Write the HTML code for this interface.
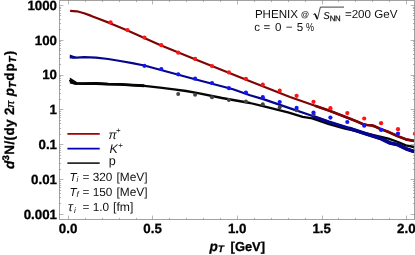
<!DOCTYPE html>
<html><head><meta charset="utf-8"><title>plot</title><style>html,body{margin:0;padding:0;background:#fff;overflow:hidden}body{width:415px;height:255px;position:relative;font-family:"Liberation Sans",sans-serif}#w{position:absolute;left:0;top:0;width:415px;height:255px;will-change:transform}</style></head><body><div id="w">
<svg width="415" height="255" viewBox="0 0 415 255" style="position:absolute;left:0;top:0;display:block" font-family="Liberation Sans, sans-serif" text-rendering="geometricPrecision">
<rect x="0" y="0" width="415" height="255" fill="#fff"/>
<rect x="59.5" y="0.5" width="355.0" height="219.0" stroke="#a2a2a2" stroke-width="1" fill="none"/>
<g stroke="#6a6a6a" stroke-width="0.5" fill="none">
<path d="M68.50 219.5v-3.9M68.50 0.5v3.9"/>
<path d="M85.50 219.5v-1.6M85.50 0.5v1.6"/>
<path d="M102.50 219.5v-1.6M102.50 0.5v1.6"/>
<path d="M119.50 219.5v-1.6M119.50 0.5v1.6"/>
<path d="M136.50 219.5v-1.6M136.50 0.5v1.6"/>
<path d="M152.50 219.5v-3.9M152.50 0.5v3.9"/>
<path d="M169.50 219.5v-1.6M169.50 0.5v1.6"/>
<path d="M186.50 219.5v-1.6M186.50 0.5v1.6"/>
<path d="M203.50 219.5v-1.6M203.50 0.5v1.6"/>
<path d="M220.50 219.5v-1.6M220.50 0.5v1.6"/>
<path d="M237.50 219.5v-3.9M237.50 0.5v3.9"/>
<path d="M254.50 219.5v-1.6M254.50 0.5v1.6"/>
<path d="M271.50 219.5v-1.6M271.50 0.5v1.6"/>
<path d="M288.50 219.5v-1.6M288.50 0.5v1.6"/>
<path d="M305.50 219.5v-1.6M305.50 0.5v1.6"/>
<path d="M322.50 219.5v-3.9M322.50 0.5v3.9"/>
<path d="M338.50 219.5v-1.6M338.50 0.5v1.6"/>
<path d="M355.50 219.5v-1.6M355.50 0.5v1.6"/>
<path d="M372.50 219.5v-1.6M372.50 0.5v1.6"/>
<path d="M389.50 219.5v-1.6M389.50 0.5v1.6"/>
<path d="M406.50 219.5v-3.9M406.50 0.5v3.9"/>
<path d="M59.5 5.50h3.9M414.5 5.50h-3.9"/>
<path d="M59.5 40.50h3.9M414.5 40.50h-3.9"/>
<path d="M59.5 29.50h1.6M414.5 29.50h-1.6"/>
<path d="M59.5 23.50h1.6M414.5 23.50h-1.6"/>
<path d="M59.5 19.50h1.6M414.5 19.50h-1.6"/>
<path d="M59.5 15.50h1.6M414.5 15.50h-1.6"/>
<path d="M59.5 13.50h1.6M414.5 13.50h-1.6"/>
<path d="M59.5 10.50h1.6M414.5 10.50h-1.6"/>
<path d="M59.5 8.50h1.6M414.5 8.50h-1.6"/>
<path d="M59.5 7.50h1.6M414.5 7.50h-1.6"/>
<path d="M59.5 75.50h3.9M414.5 75.50h-3.9"/>
<path d="M59.5 64.50h1.6M414.5 64.50h-1.6"/>
<path d="M59.5 58.50h1.6M414.5 58.50h-1.6"/>
<path d="M59.5 54.50h1.6M414.5 54.50h-1.6"/>
<path d="M59.5 50.50h1.6M414.5 50.50h-1.6"/>
<path d="M59.5 48.50h1.6M414.5 48.50h-1.6"/>
<path d="M59.5 45.50h1.6M414.5 45.50h-1.6"/>
<path d="M59.5 43.50h1.6M414.5 43.50h-1.6"/>
<path d="M59.5 41.50h1.6M414.5 41.50h-1.6"/>
<path d="M59.5 109.50h3.9M414.5 109.50h-3.9"/>
<path d="M59.5 99.50h1.6M414.5 99.50h-1.6"/>
<path d="M59.5 93.50h1.6M414.5 93.50h-1.6"/>
<path d="M59.5 89.50h1.6M414.5 89.50h-1.6"/>
<path d="M59.5 85.50h1.6M414.5 85.50h-1.6"/>
<path d="M59.5 82.50h1.6M414.5 82.50h-1.6"/>
<path d="M59.5 80.50h1.6M414.5 80.50h-1.6"/>
<path d="M59.5 78.50h1.6M414.5 78.50h-1.6"/>
<path d="M59.5 76.50h1.6M414.5 76.50h-1.6"/>
<path d="M59.5 144.50h3.9M414.5 144.50h-3.9"/>
<path d="M59.5 134.50h1.6M414.5 134.50h-1.6"/>
<path d="M59.5 128.50h1.6M414.5 128.50h-1.6"/>
<path d="M59.5 123.50h1.6M414.5 123.50h-1.6"/>
<path d="M59.5 120.50h1.6M414.5 120.50h-1.6"/>
<path d="M59.5 117.50h1.6M414.5 117.50h-1.6"/>
<path d="M59.5 115.50h1.6M414.5 115.50h-1.6"/>
<path d="M59.5 113.50h1.6M414.5 113.50h-1.6"/>
<path d="M59.5 111.50h1.6M414.5 111.50h-1.6"/>
<path d="M59.5 179.50h3.9M414.5 179.50h-3.9"/>
<path d="M59.5 169.50h1.6M414.5 169.50h-1.6"/>
<path d="M59.5 163.50h1.6M414.5 163.50h-1.6"/>
<path d="M59.5 158.50h1.6M414.5 158.50h-1.6"/>
<path d="M59.5 155.50h1.6M414.5 155.50h-1.6"/>
<path d="M59.5 152.50h1.6M414.5 152.50h-1.6"/>
<path d="M59.5 150.50h1.6M414.5 150.50h-1.6"/>
<path d="M59.5 148.50h1.6M414.5 148.50h-1.6"/>
<path d="M59.5 146.50h1.6M414.5 146.50h-1.6"/>
<path d="M59.5 214.50h3.9M414.5 214.50h-3.9"/>
<path d="M59.5 203.50h1.6M414.5 203.50h-1.6"/>
<path d="M59.5 197.50h1.6M414.5 197.50h-1.6"/>
<path d="M59.5 193.50h1.6M414.5 193.50h-1.6"/>
<path d="M59.5 190.50h1.6M414.5 190.50h-1.6"/>
<path d="M59.5 187.50h1.6M414.5 187.50h-1.6"/>
<path d="M59.5 185.50h1.6M414.5 185.50h-1.6"/>
<path d="M59.5 183.50h1.6M414.5 183.50h-1.6"/>
<path d="M59.5 181.50h1.6M414.5 181.50h-1.6"/>
</g>
<clipPath id="c"><rect x="59.5" y="0.5" width="355.0" height="219.0"/></clipPath>
<g clip-path="url(#c)" fill="none" stroke-linejoin="round" stroke-linecap="butt">
<path d="M70.1 10.8 L76.9 11.3 L84.1 13.3 L91.3 15.9 L98.6 18.8 L110.6 23.4 L127.5 30.6 L144.3 38.1 L160.0 45.1 L195.0 59.3 L250.0 81.3 L290.0 97.0 L315.0 105.8 L329.5 110.7 L346.3 117.3 L357.0 121.6 L363.2 124.2 L367.0 125.0 L371.6 125.4 L375.0 126.4 L380.0 128.7 L388.5 131.9 L397.9 136.2 L405.8 139.3 L414.0 140.9" stroke="#800404" stroke-width="2.2"/>
<path d="M315.0 105.8 L329.5 110.7 L346.3 117.3 L357.0 121.6 L363.2 124.2 L367.0 125.0 L371.6 125.4 L375.0 126.4 L380.0 128.7 L388.5 131.9 L397.9 136.2 L405.8 139.3 L414.0 140.9" stroke="#800404" stroke-width="2.7"/>
<path d="M70.0 79.8 L72.5 82.6 L75.7 83.4 L84.1 83.6 L96.0 83.5 L108.2 84.1 L120.0 84.4 L132.3 85.1 L144.3 85.8 L160.0 87.7 L174.0 89.3 L186.0 91.0 L198.0 93.1 L222.0 98.0 L250.0 103.0 L264.0 106.3 L288.0 112.4 L302.7 116.8 L312.3 118.4 L329.0 124.2 L345.0 128.7 L365.0 133.0 L388.5 138.7 L398.0 142.0 L405.8 145.4 L414.0 147.0" stroke="#050505" stroke-width="2.3"/>
<path d="M70.0 79.8 L72.5 82.6 L75.7 83.4 L84.1 83.6 L96.0 83.5 L108.2 84.1 L120.0 84.4 L132.3 85.1 L144.3 85.8" stroke="#050505" stroke-width="2.9"/>
<path d="M70.0 56.2 L73.0 57.4 L76.9 57.6 L84.1 57.1 L96.1 57.6 L108.2 59.0 L120.2 61.0 L132.3 63.1 L144.3 65.5 L160.0 69.8 L195.0 79.3 L233.0 89.3 L250.0 95.3 L264.0 99.4 L288.0 107.6 L312.0 115.8 L329.0 122.0 L349.0 128.3 L365.0 133.6 L380.7 138.5 L390.0 143.0 L398.0 144.8 L405.8 148.7 L414.0 151.6" stroke="#06068c" stroke-width="2.2"/>
<path d="M312.0 115.8 L329.0 122.0 L349.0 128.3 L365.0 133.6 L380.7 138.5 L390.0 143.0 L398.0 144.8 L405.8 148.7 L414.0 151.6" stroke="#06068c" stroke-width="3.0"/>
<path d="M349.0 128.3 L365.0 133.6 L380.7 138.5 L390.0 143.0 L398.0 144.8 L405.8 148.7 L414.0 151.6" stroke="#06068c" stroke-width="3.7"/>
<path d="M69.8 77.4 L69.8 83.6 L77 84.8 L77 81.9 Z" fill="#050505" stroke="none"/>
<path d="M69.8 54.6 L69.8 58.4 L75.5 58.6 L75.5 56.6 Z" fill="#06068c" stroke="none"/>
<circle cx="178.2" cy="93.9" r="2" fill="#444" stroke="none"/>
<circle cx="195.1" cy="94.8" r="2" fill="#444" stroke="none"/>
<circle cx="212.0" cy="97.2" r="2" fill="#444" stroke="none"/>
<circle cx="228.9" cy="99.9" r="2" fill="#444" stroke="none"/>
<circle cx="245.9" cy="101.6" r="2" fill="#444" stroke="none"/>
<circle cx="262.8" cy="104.2" r="2" fill="#444" stroke="none"/>
<circle cx="279.7" cy="107.3" r="2" fill="#444" stroke="none"/>
<circle cx="296.6" cy="110.3" r="2" fill="#444" stroke="none"/>
<circle cx="313.5" cy="114.2" r="2" fill="#444" stroke="none"/>
<circle cx="110.6" cy="22.4" r="2.1" fill="#ff1414" stroke="none"/>
<circle cx="127.5" cy="30.1" r="2.1" fill="#ff1414" stroke="none"/>
<circle cx="144.4" cy="37.6" r="2.1" fill="#ff1414" stroke="none"/>
<circle cx="161.3" cy="45.2" r="2.1" fill="#ff1414" stroke="none"/>
<circle cx="178.2" cy="52.7" r="2.1" fill="#ff1414" stroke="none"/>
<circle cx="195.1" cy="58.9" r="2.1" fill="#ff1414" stroke="none"/>
<circle cx="212.0" cy="66.1" r="2.1" fill="#ff1414" stroke="none"/>
<circle cx="228.9" cy="72.4" r="2.1" fill="#ff1414" stroke="none"/>
<circle cx="245.9" cy="78.8" r="2.1" fill="#ff1414" stroke="none"/>
<circle cx="262.8" cy="84.7" r="2.1" fill="#ff1414" stroke="none"/>
<circle cx="279.7" cy="90.7" r="2.1" fill="#ff1414" stroke="none"/>
<circle cx="296.6" cy="95.8" r="2.1" fill="#ff1414" stroke="none"/>
<circle cx="313.5" cy="101.8" r="2.1" fill="#ff1414" stroke="none"/>
<circle cx="330.4" cy="108.2" r="2.1" fill="#ff1414" stroke="none"/>
<circle cx="347.3" cy="113.1" r="2.1" fill="#ff1414" stroke="none"/>
<circle cx="364.2" cy="118.5" r="2.1" fill="#ff1414" stroke="none"/>
<circle cx="381.1" cy="123.2" r="2.1" fill="#ff1414" stroke="none"/>
<circle cx="398.0" cy="129.2" r="2.1" fill="#ff1414" stroke="none"/>
<circle cx="415.0" cy="133.7" r="2.1" fill="#ff1414" stroke="none"/>
<circle cx="144.4" cy="65.8" r="2.1" fill="#1414ff" stroke="none"/>
<circle cx="161.3" cy="69" r="2.1" fill="#1414ff" stroke="none"/>
<circle cx="178.2" cy="74.3" r="2.1" fill="#1414ff" stroke="none"/>
<circle cx="195.1" cy="78.7" r="2.1" fill="#1414ff" stroke="none"/>
<circle cx="212.0" cy="83" r="2.1" fill="#1414ff" stroke="none"/>
<circle cx="228.9" cy="88.2" r="2.1" fill="#1414ff" stroke="none"/>
<circle cx="245.9" cy="92.6" r="2.1" fill="#1414ff" stroke="none"/>
<circle cx="262.8" cy="97.2" r="2.1" fill="#1414ff" stroke="none"/>
<circle cx="279.7" cy="102" r="2.1" fill="#1414ff" stroke="none"/>
<circle cx="296.6" cy="107.9" r="2.1" fill="#1414ff" stroke="none"/>
<circle cx="313.5" cy="112.6" r="2.1" fill="#1414ff" stroke="none"/>
<circle cx="330.4" cy="117.6" r="2.1" fill="#1414ff" stroke="none"/>
<circle cx="347.3" cy="122" r="2.1" fill="#1414ff" stroke="none"/>
<circle cx="364.2" cy="125.7" r="2.1" fill="#1414ff" stroke="none"/>
<circle cx="381.1" cy="129.9" r="2.1" fill="#1414ff" stroke="none"/>
<circle cx="398.0" cy="133.6" r="2.1" fill="#1414ff" stroke="none"/>
</g>
<path d="M67.4 133.9H99.7" stroke="#a00000" stroke-width="1.8"/>
<path d="M67.4 148.7H99.7" stroke="#0000b0" stroke-width="1.8"/>
<path d="M67.4 163.2H99.7" stroke="#2a2a2a" stroke-width="1.8"/>
<g font-weight="bold" font-size="13.3" fill="#000" stroke="#000" stroke-width="0.3">
<text x="57" y="9.7" text-anchor="end">1000</text>
<text x="57" y="44.5" text-anchor="end">100</text>
<text x="57" y="79.3" text-anchor="end">10</text>
<text x="57" y="114.1" text-anchor="end">1</text>
<text x="57" y="149.0" text-anchor="end">0.1</text>
<text x="57" y="183.8" text-anchor="end">0.01</text>
<text x="57" y="218.6" text-anchor="end">0.001</text>
<text x="68.1" y="233.2" text-anchor="middle">0.0</text>
<text x="152.6" y="233.2" text-anchor="middle">0.5</text>
<text x="237.2" y="233.2" text-anchor="middle">1.0</text>
<text x="321.7" y="233.2" text-anchor="middle">1.5</text>
<text x="406.3" y="233.2" text-anchor="middle">2.0</text>
<text x="209.4" y="250.8" font-size="13.6" font-style="italic">p</text><text x="218" y="252.4" font-size="9.6" font-style="italic">T</text><text x="230.6" y="250.8" font-size="12.9">[GeV]</text>
<text transform="translate(14 169.1) rotate(-90)" font-size="13.5" letter-spacing="0.38"><tspan font-style="italic">d</tspan><tspan font-size="9.6" dy="-4.8">3</tspan><tspan dy="4.8">N/(dy 2</tspan><tspan font-style="italic" font-weight="normal" font-size="11" dx="-0.9">π</tspan><tspan dx="-0.2"> </tspan><tspan font-style="italic">p</tspan><tspan font-style="italic" font-size="10.2" dy="2" dx="-0.4">T</tspan><tspan dy="-2" dx="0.6">d</tspan><tspan dx="0.7">p</tspan><tspan font-style="italic" font-size="10.2" dy="2" dx="0.2">T</tspan><tspan dy="-2" dx="0.9">)</tspan></text>
</g>
<g font-size="11.6" fill="#111">
<text x="254.9" y="18.3">PHENIX</text><text x="301" y="16.5" font-size="8.2" font-weight="bold">@</text>
<path d="M313.3 14.6l1.5 -1l2.6 5.6l3 -12.1H344" fill="none" stroke="#111" stroke-width="0.8"/><path d="M314.9 13.7l2.5 5.4" fill="none" stroke="#111" stroke-width="1.5"/>
<text x="323.4" y="19.2" font-size="13" font-style="italic">s</text><text x="329.8" y="20.9" font-size="7.8" letter-spacing="-0.4" stroke="#111" stroke-width="0.25">NN</text>
<text x="344.9" y="18.3">=200 GeV</text>
<text y="30.5"><tspan x="254.3">c</tspan><tspan x="263.6">=</tspan><tspan x="275">0</tspan><tspan x="285.7">−</tspan><tspan x="296.7">5</tspan></text><text transform="translate(306 30.5) scale(0.78 1)">%</text>
<text x="108.6" y="138.8" font-size="12.2" font-style="italic">π</text><text x="116" y="133.2" font-size="8">+</text>
<text x="109.4" y="152.6" font-size="12.4" font-style="italic">K</text><text x="118.2" y="148.2" font-size="8">+</text>
<text x="108.8" y="165.3" font-size="12.6">p</text>
<text x="69.4" y="180.6"><tspan font-style="italic">T</tspan><tspan font-style="italic" font-size="8" dy="1.6">i</tspan><tspan dy="-1.6" x="82.5" font-size="11.8">= 320</tspan><tspan x="116.5" font-size="11.9">[MeV]</tspan></text>
<text x="69.4" y="195.5"><tspan font-style="italic">T</tspan><tspan font-style="italic" font-size="8" dy="1.6">f</tspan><tspan dy="-1.6" x="82.5" font-size="11.8">= 150</tspan><tspan x="116.5" font-size="11.9">[MeV]</tspan></text>
<text x="68" y="210.7"><tspan font-style="italic" font-size="13">τ</tspan><tspan font-style="italic" font-size="8" dy="2.4" dx="1.2">i</tspan><tspan dy="-2.4" x="82.5" font-size="11.8">= 1.0</tspan><tspan x="113" font-size="12.2">[fm]</tspan></text>
</g>
</svg>
</div></body></html>
